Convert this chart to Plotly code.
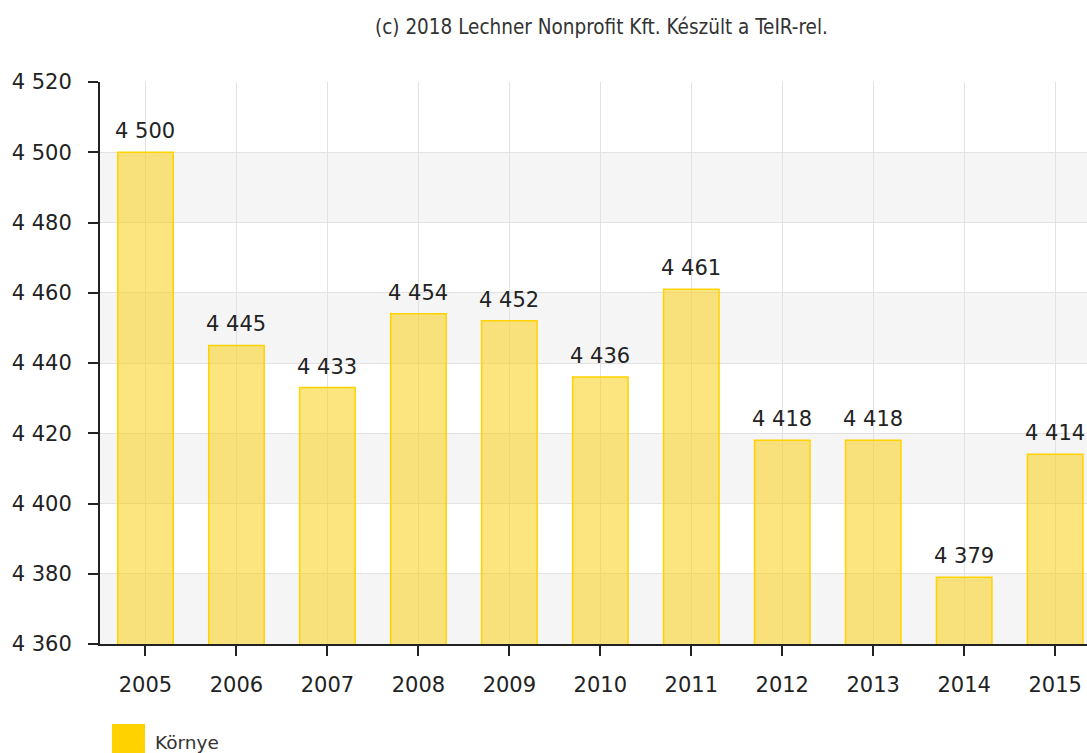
import plotly.graph_objects as go

years = ["2005", "2006", "2007", "2008", "2009", "2010", "2011", "2012", "2013", "2014", "2015"]
values = [4500, 4445, 4433, 4454, 4452, 4436, 4461, 4418, 4418, 4379, 4414]
series_name = "Környe"
y_ticks = [4360, 4380, 4400, 4420, 4440, 4460, 4480, 4500, 4520]
title_text = "(c) 2018 Lechner Nonprofit Kft. Készült a TeIR-rel."

def fmt(v):
    return f"{v:,}".replace(",", " ")

fig = go.Figure()
fig.add_trace(go.Bar(
    x=years, y=values, name=series_name,
    width=0.61,
    marker=dict(color="rgba(250,208,20,0.55)", line=dict(color="#FFD200", width=1.5)),
    showlegend=False,
))

# alternating bands
shapes = []
for lo in [4360, 4400, 4440, 4480]:
    shapes.append(dict(type="rect", xref="paper", yref="y", x0=0, x1=1, y0=lo, y1=lo + 20,
                       fillcolor="#F5F5F5", line=dict(width=0), layer="below"))
# legend swatch
shapes.append(dict(type="rect", xref="paper", yref="paper", x0=0.0122, x1=0.0456, y0=-0.1424, y1=-0.21,
                   fillcolor="#FFD200", line=dict(width=0)))

annotations = [
    dict(text=title_text, xref="paper", yref="paper", x=0.5076, y=1.0979, xanchor="center", yanchor="middle",
         showarrow=False, font=dict(family="DejaVu Sans Condensed, Liberation Sans", size=20.5, color="#333333")),
    dict(text=series_name, xref="paper", yref="paper", x=0.0537, y=-0.1744, xanchor="left", yanchor="middle",
         showarrow=False, font=dict(family="DejaVu Sans", size=18.5, color="#333333")),
]
for i, v in enumerate(values):
    annotations.append(dict(x=i, y=v, xref="x", yref="y", text=fmt(v), showarrow=False,
                            xanchor="center", yanchor="bottom", yshift=7,
                            font=dict(family="DejaVu Sans", size=21, color="#222222")))

fig.update_layout(
    width=1087, height=753,
    margin=dict(l=100, r=0, t=82, b=109),
    plot_bgcolor="rgba(0,0,0,0)", paper_bgcolor="white",
    separators=", ",
    shapes=shapes,
    annotations=annotations,
    xaxis=dict(
        type="category",
        range=[-0.5, 10.35], showline=True, linecolor="#222222", linewidth=2,
        ticks="outside", ticklen=10, tickwidth=2, tickcolor="#222222",
        showgrid=True, gridcolor="#E2E2E2", gridwidth=1,
        tickfont=dict(family="DejaVu Sans", size=21, color="#222222"),
        ticklabelstandoff=11,
    ),
    yaxis=dict(
        range=[4360, 4520], tickvals=y_ticks, tickformat=",d",
        showline=True, linecolor="#222222", linewidth=2,
        ticks="outside", ticklen=10, tickwidth=2, tickcolor="#222222",
        showgrid=True, gridcolor="#E2E2E2", gridwidth=1, zeroline=False,
        tickfont=dict(family="DejaVu Sans", size=21, color="#222222"),
        ticklabelstandoff=12,
    ),
)

fig.write_html("out.html", config={"displayModeBar": False},
               post_script="document.body.style.margin='0';document.body.style.overflow='hidden';")
